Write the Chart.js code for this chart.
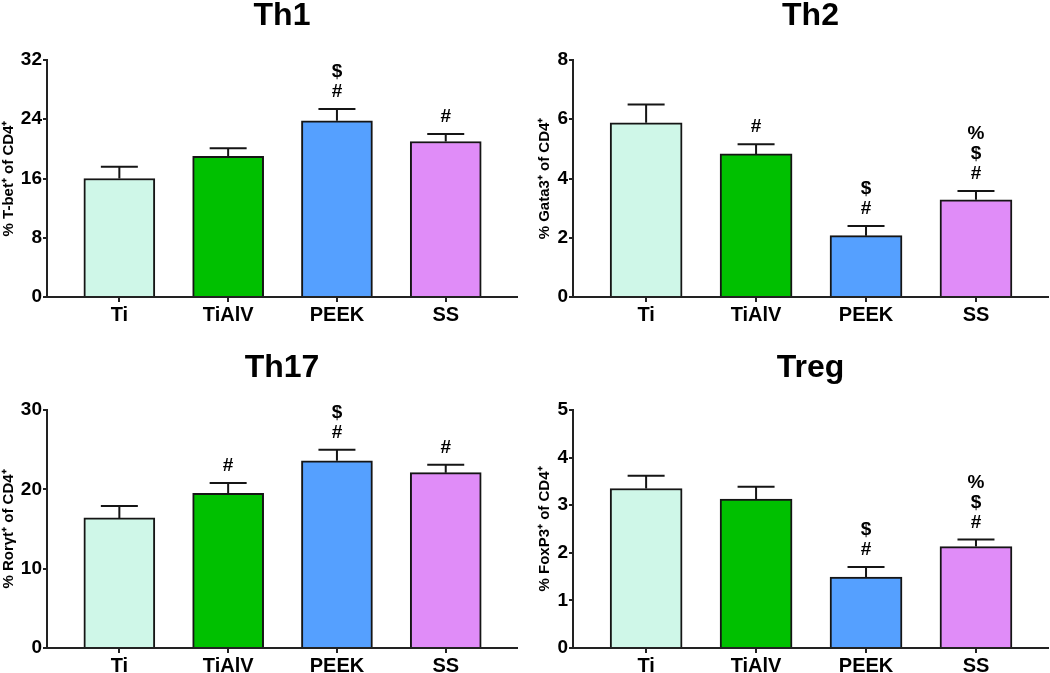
<!DOCTYPE html>
<html>
<head>
<meta charset="utf-8">
<script src="https://cdn.jsdelivr.net/npm/chart.js@4.4.1/dist/chart.umd.min.js"></script>
<style>
  body { margin: 0; background: #fff; }
  .panel { position: absolute; width: 525px; }
</style>
</head>
<body>
<div class="panel" style="left:0;top:0;height:336px"><canvas id="th1"></canvas></div>
<div class="panel" style="left:525px;top:0;height:336px"><canvas id="th2"></canvas></div>
<div class="panel" style="left:0;top:336px;height:337px"><canvas id="th17"></canvas></div>
<div class="panel" style="left:525px;top:336px;height:337px"><canvas id="treg"></canvas></div>
<script>
const categories = ['Ti', 'TiAlV', 'PEEK', 'SS'];
const barColors = ['#cff7e8', '#00c000', '#55a0ff', '#e08cf8'];

const th1Mean = [16.0, 19.0, 23.8, 21.0];
const th1Sem = [1.6, 1.1, 1.6, 1.0];
const th1Marks = ['', '', '#$', '#'];

const th2Mean = [5.88, 4.83, 2.07, 3.28];
const th2Sem = [0.62, 0.33, 0.33, 0.30];
const th2Marks = ['', '#', '#$', '#$%'];

const th17Mean = [16.4, 19.5, 23.6, 22.1];
const th17Sem = [1.5, 1.3, 1.4, 1.0];
const th17Marks = ['', '#', '#$', '#'];

const tregMean = [3.35, 3.13, 1.49, 2.13];
const tregSem = [0.27, 0.26, 0.21, 0.15];
const tregMarks = ['', '', '#$', '#$%'];

const FONT = '"Liberation Sans", Arial, Helvetica, sans-serif';
Chart.defaults.font.family = FONT;
Chart.defaults.color = '#000';

// error bars (upper SEM only) + significance symbols stacked above the cap
const errorBars = {
    id: 'errorBars',
    afterDatasetsDraw(chart, args, opts) {
        const { ctx, scales: { x, y } } = chart;
        ctx.save();
        ctx.strokeStyle = '#151515';
        ctx.lineWidth = 2;
        ctx.fillStyle = '#000';
        ctx.font = 'bold 19px ' + FONT;
        ctx.textAlign = 'center';
        ctx.textBaseline = 'middle';
        opts.means.forEach((m, i) => {
            const px = x.getPixelForValue(i);
            const top = y.getPixelForValue(m);
            const cap = y.getPixelForValue(m + opts.sems[i]);
            ctx.beginPath();
            ctx.moveTo(px, top);
            ctx.lineTo(px, cap);
            ctx.moveTo(px - 18.5, cap);
            ctx.lineTo(px + 18.5, cap);
            ctx.stroke();
            opts.marks[i].split('').forEach((s, k) => {
                ctx.fillText(s, px, cap - 17 - k * 20);
            });
        });
        ctx.restore();
    }
};

function makeChart(id, title, yTitle, means, sems, marks, yMax, step, o) {
    new Chart(document.getElementById(id), {
        type: 'bar',
        data: {
            datasets: [{
                data: means.map((v, i) => ({ x: i, y: v })),
                backgroundColor: barColors,
                borderColor: '#151515',
                borderWidth: 2,
                barThickness: o.barW
            }]
        },
        plugins: [errorBars],
        options: {
            responsive: true,
            maintainAspectRatio: false,
            animation: false,
            layout: { padding: { right: o.padRight, left: 0, bottom: 0, top: 0 } },
            scales: {
                x: {
                    type: 'linear',
                    offset: false,
                    min: -0.665,
                    max: 3.655,
                    afterBuildTicks: s => { s.ticks = categories.map((c, i) => ({ value: i })); },
                    afterFit: s => { s.height = o.xH; },
                    ticks: {
                        callback: v => categories[v],
                        font: { size: 20, weight: 'bold' },
                        color: '#000',
                        padding: 1,
                        autoSkip: false,
                        maxRotation: 0
                    },
                    grid: { offset: false, drawOnChartArea: false, tickLength: 5, color: '#222', lineWidth: 2 },
                    border: { color: '#222', width: 2 }
                },
                y: {
                    min: 0,
                    max: yMax,
                    afterFit: s => { s.width = o.yW; },
                    ticks: {
                        stepSize: step,
                        font: { size: 19, weight: 'bold' },
                        color: '#000',
                        padding: 1
                    },
                    grid: { drawOnChartArea: false, tickLength: 4, color: '#222', lineWidth: 2 },
                    border: { color: '#222', width: 2 },
                    title: {
                        display: true,
                        text: yTitle,
                        font: { size: 15, weight: 'bold' },
                        color: '#000',
                        padding: { top: o.yTitlePad, bottom: 0 }
                    }
                }
            },
            plugins: {
                legend: { display: false },
                tooltip: { enabled: false },
                title: {
                    display: true,
                    text: title,
                    fullSize: false,
                    color: '#000',
                    font: { size: 32, weight: 'bold', lineHeight: 1 },
                    padding: { top: o.titleTop, bottom: o.titleBottom }
                },
                errorBars: { means: means, sems: sems, marks: marks }
            }
        }
    });
}

const topLeft = { barW: 71, padRight: 8, xH: 39, yW: 47, yTitlePad: 0, titleTop: 0, titleBottom: 28 };
const topRight = { barW: 72, padRight: 2, xH: 39, yW: 48, yTitlePad: 11, titleTop: 0, titleBottom: 28 };
const botLeft = { barW: 71, padRight: 8, xH: 25, yW: 47, yTitlePad: 0, titleTop: 16, titleBottom: 26 };
const botRight = { barW: 72, padRight: 2, xH: 25, yW: 48, yTitlePad: 11, titleTop: 16, titleBottom: 26 };

makeChart('th1', 'Th1', '% T-bet\u207A of CD4\u207A', th1Mean, th1Sem, th1Marks, 32, 8, topLeft);
makeChart('th2', 'Th2', '% Gata3\u207A of CD4\u207A', th2Mean, th2Sem, th2Marks, 8, 2, topRight);
makeChart('th17', 'Th17', '% Ror\u03B3t\u207A of CD4\u207A', th17Mean, th17Sem, th17Marks, 30, 10, botLeft);
makeChart('treg', 'Treg', '% FoxP3\u207A of CD4\u207A', tregMean, tregSem, tregMarks, 5, 1, botRight);
</script>
</body>
</html>
